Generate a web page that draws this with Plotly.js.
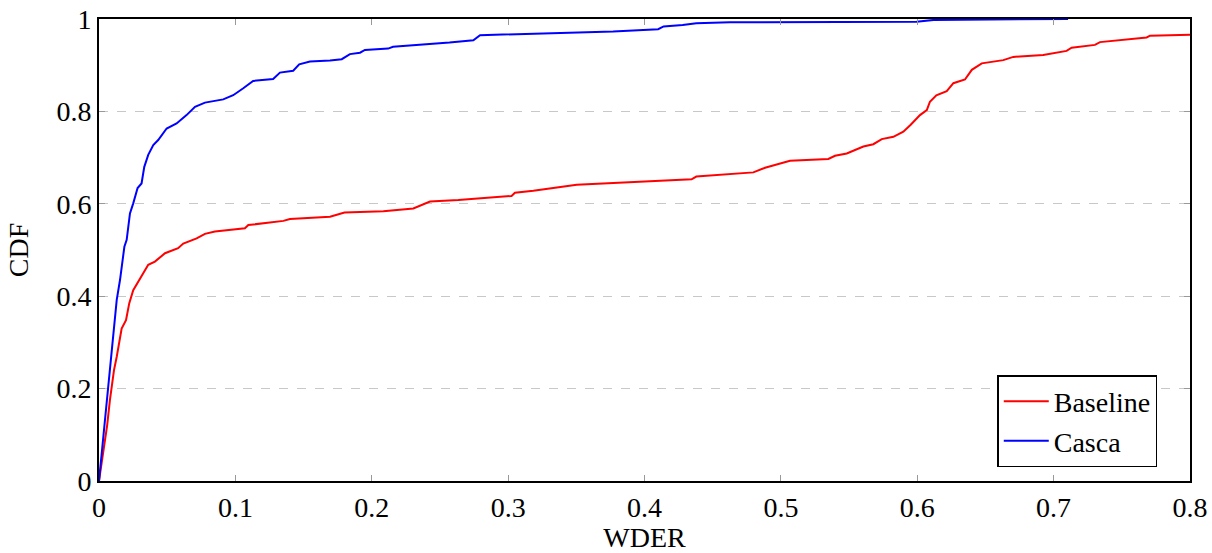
<!DOCTYPE html>
<html>
<head>
<meta charset="utf-8">
<script src="https://cdn.plot.ly/plotly-3.0.1.min.js"></script>
<style>html,body{margin:0;padding:0;background:#fff;}#chart{width:1212px;height:553px;}</style>
</head>
<body>
<div id="chart"></div>
<script>
// Baseline (red) CDF points
const baselineX = [0, 0.0044, 0.006, 0.008, 0.011, 0.013, 0.0154, 0.0166, 0.0198, 0.0222, 0.0251, 0.0288, 0.0325, 0.0361, 0.041, 0.0447, 0.0484, 0.058, 0.0618, 0.0716, 0.0777, 0.085, 0.107, 0.1095, 0.1352, 0.14, 0.1694, 0.18, 0.2085, 0.2305, 0.2427, 0.2635, 0.3025, 0.305, 0.3185, 0.3503, 0.4065, 0.4345, 0.438, 0.4627, 0.4798, 0.4884, 0.5067, 0.5348, 0.5397, 0.5483, 0.5605, 0.5678, 0.574, 0.5825, 0.5898, 0.5952, 0.602, 0.607, 0.6093, 0.614, 0.6216, 0.6265, 0.635, 0.64, 0.6473, 0.6631, 0.6704, 0.6924, 0.7095, 0.7132, 0.7303, 0.734, 0.7682, 0.7707, 0.8];
const baselineY = [0, 0.082, 0.121, 0.175, 0.240, 0.269, 0.305, 0.330, 0.348, 0.385, 0.413, 0.431, 0.450, 0.468, 0.475, 0.485, 0.493, 0.504, 0.514, 0.525, 0.535, 0.540, 0.547, 0.554, 0.563, 0.567, 0.572, 0.581, 0.584, 0.590, 0.605, 0.608, 0.617, 0.624, 0.628, 0.641, 0.648, 0.653, 0.659, 0.664, 0.668, 0.678, 0.693, 0.697, 0.704, 0.709, 0.724, 0.729, 0.740, 0.745, 0.756, 0.771, 0.792, 0.803, 0.821, 0.835, 0.844, 0.861, 0.869, 0.890, 0.904, 0.911, 0.918, 0.922, 0.931, 0.938, 0.944, 0.950, 0.960, 0.964, 0.966];

// Casca (blue) CDF points
const cascaX = [0, 0.0044, 0.0056, 0.0085, 0.0105, 0.013, 0.0154, 0.0171, 0.0186, 0.0203, 0.0227, 0.0251, 0.0283, 0.0312, 0.0332, 0.0361, 0.0398, 0.0434, 0.0496, 0.0569, 0.0642, 0.0704, 0.0777, 0.0911, 0.0984, 0.1058, 0.113, 0.1277, 0.1327, 0.1424, 0.1468, 0.1547, 0.1694, 0.178, 0.184, 0.1914, 0.195, 0.212, 0.2156, 0.257, 0.2745, 0.2794, 0.377, 0.410, 0.414, 0.428, 0.438, 0.4627, 0.5995, 0.612, 0.7106];
const cascaY = [0, 0.132, 0.169, 0.269, 0.327, 0.392, 0.435, 0.471, 0.507, 0.522, 0.579, 0.601, 0.634, 0.644, 0.680, 0.706, 0.727, 0.738, 0.763, 0.774, 0.792, 0.810, 0.819, 0.826, 0.835, 0.850, 0.866, 0.870, 0.884, 0.888, 0.902, 0.908, 0.910, 0.913, 0.924, 0.927, 0.933, 0.936, 0.940, 0.949, 0.954, 0.965, 0.973, 0.978, 0.984, 0.987, 0.991, 0.993, 0.994, 0.998, 1.0];

const xTicks = [0, 0.1, 0.2, 0.3, 0.4, 0.5, 0.6, 0.7, 0.8];
const xTickText = ["0", "0.1", "0.2", "0.3", "0.4", "0.5", "0.6", "0.7", "0.8"];
const yTicks = [0, 0.2, 0.4, 0.6, 0.8, 1];
const yTickText = ["0", "0.2", "0.4", "0.6", "0.8", "1"];
const seriesNames = ["Baseline", "Casca"];

const font = "'Liberation Serif', 'Times New Roman', Times, 'DejaVu Serif', serif";

const traces = [
  {x: baselineX, y: baselineY, mode: "lines", name: seriesNames[0], line: {color: "#ff0000", width: 2}},
  {x: cascaX, y: cascaY, mode: "lines", name: seriesNames[1], line: {color: "#0000ff", width: 2}}
];

const layout = {
  width: 1212, height: 553,
  margin: {l: 99, r: 22, t: 19, b: 72, pad: 0},
  paper_bgcolor: "#fff", plot_bgcolor: "#fff",
  font: {family: font, size: 28, color: "#000"},
  showlegend: true,
  legend: {
    x: 0.97, xanchor: "right", y: 0.03, yanchor: "bottom",
    bgcolor: "#fff", bordercolor: "#000", borderwidth: 1.5,
    font: {family: font, size: 28, color: "#000"},
    itemwidth: 45, tracegroupgap: 0
  },
  xaxis: {
    range: [0, 0.8], tickvals: xTicks, ticktext: xTickText,
    showline: true, linecolor: "#000", linewidth: 2, mirror: "ticks",
    ticks: "inside", ticklen: 6, tickcolor: "#999", tickwidth: 1,
    showgrid: false, zeroline: false,
    tickfont: {family: font, size: 28},
    title: {text: "WDER", font: {family: font, size: 28}, standoff: 8}
  },
  yaxis: {
    range: [0, 1], tickvals: yTicks, ticktext: yTickText,
    showline: true, linecolor: "#000", linewidth: 2, mirror: "ticks",
    ticks: "inside", ticklen: 6, tickcolor: "#999", tickwidth: 1,
    showgrid: true, gridcolor: "#c8c8c8", griddash: "dash", gridwidth: 1,
    zeroline: false,
    tickfont: {family: font, size: 28},
    title: {text: "CDF", font: {family: font, size: 28}, standoff: 20}
  }
};

Plotly.newPlot("chart", traces, layout, {staticPlot: true, displayModeBar: false});
</script>
</body>
</html>
